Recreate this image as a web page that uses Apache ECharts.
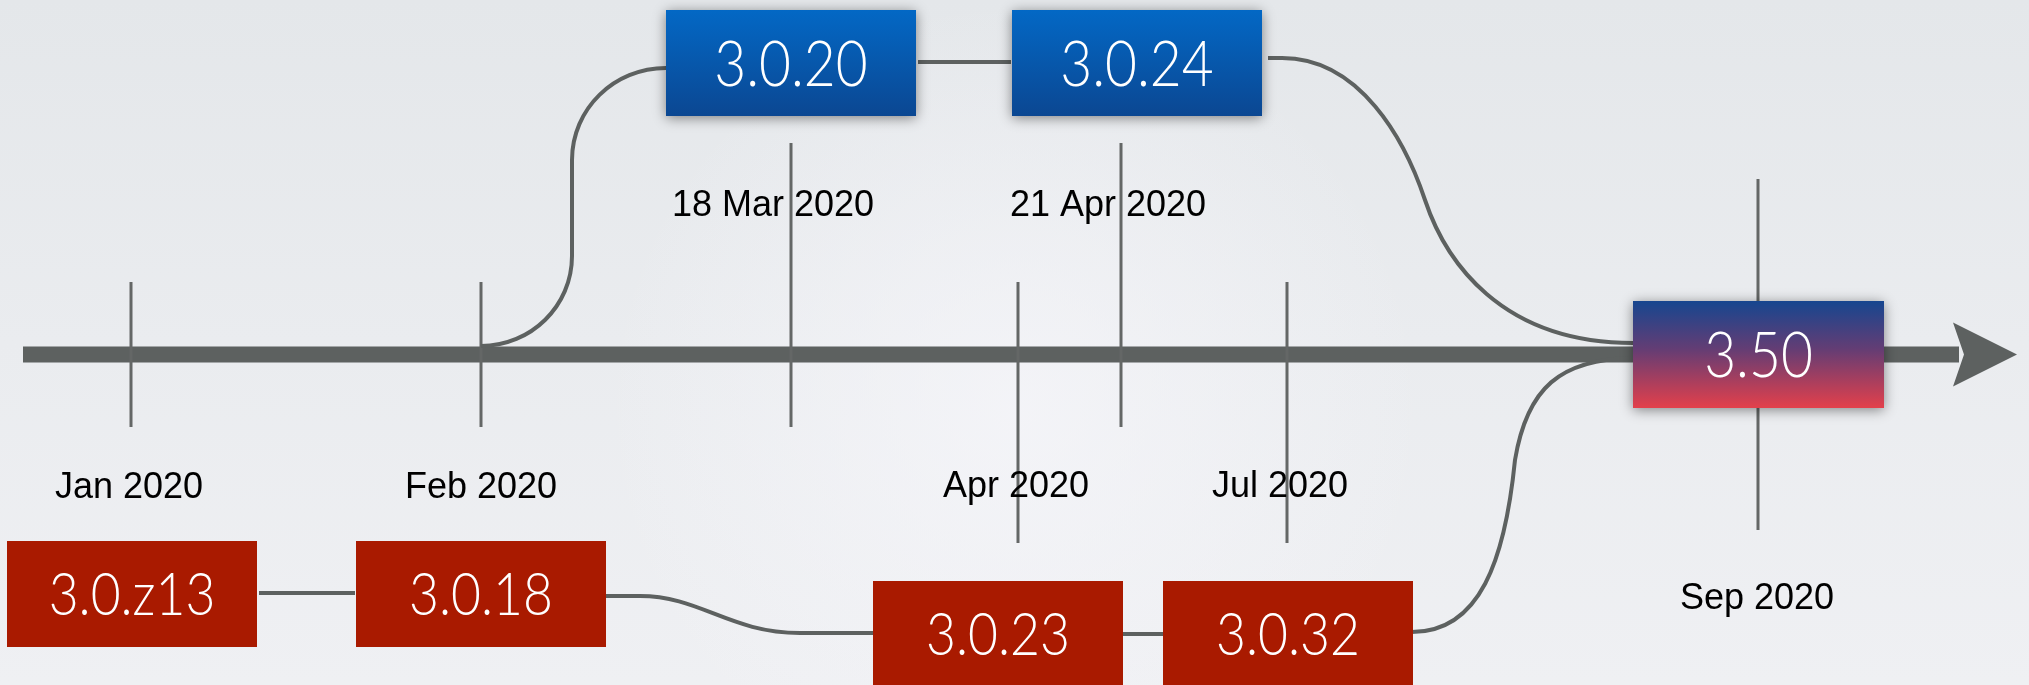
<!DOCTYPE html>
<html><head><meta charset="utf-8">
<script src="https://cdn.jsdelivr.net/npm/echarts@6/dist/echarts.min.js"></script>
<style>html,body{margin:0;padding:0;overflow:hidden;background:#eceef1}#chart{width:2029px;height:685px}</style>
</head><body><div id="chart"></div>
<script>
// ---------- data ----------
const dateLabels     = ['Jan 2020', 'Feb 2020', '18 Mar 2020', 'Apr 2020', '21 Apr 2020', 'Jul 2020', 'Sep 2020'];
const datePositions  = [131, 481, 791, 1018, 1121, 1287, 1758];          // position along the timeline
const versionLabels  = ['3.0.z13', '3.0.18', '3.0.20', '3.0.24', '3.0.23', '3.0.32', '3.50'];
const versionBranch  = ['old', 'old', 'new', 'new', 'old', 'old', 'merged'];

// ---------- layout (diagram units = pixels of the 2029x685 canvas) ----------
const tickTop    = [282, 282, 143, 282, 143, 282, 179];
const tickBottom = [427, 427, 427, 543, 427, 543, 530];
const labelX     = [129, 481, 773, 1016, 1108, 1280, 1757];
const labelY     = [488, 488, 206, 487, 206, 487, 599];
const boxX       = [7, 356, 666, 1012, 873, 1163, 1633];
const boxY       = [541, 541, 10, 10, 581, 581, 301];
const boxW       = [250, 250, 250, 250, 250, 250, 251];
const boxH       = [106, 106, 106, 106, 106, 106, 107];
const spine      = {start: 23, end: 2017, y: 354.5};
const connectors = [
  [['M', 259, 593], ['L', 355, 593]],
  [['M', 605, 596], ['L', 640, 596], ['C', 700, 596, 730, 633, 800, 633], ['L', 873, 633]],
  [['M', 1123, 634], ['L', 1163, 634]],
  [['M', 1412, 632], ['C', 1480, 632, 1505, 560, 1515, 460], ['C', 1527, 388, 1560, 359, 1633, 358]],
  [['M', 481, 346], ['C', 531, 346, 572, 306, 572, 256], ['L', 572, 160], ['C', 572, 109, 614, 68, 666, 68]],
  [['M', 918, 62], ['L', 1011, 62]],
  [['M', 1268, 58], ['L', 1282, 58], ['C', 1360, 58, 1405, 140, 1425, 200], ['C', 1445, 260, 1500, 343, 1633, 343]]
];

// ---------- styles ----------
const LINE = '#5d6160';
const branchStyle = {
  old: {fill: '#a91a00', shadow: 0, size: 60},
  new: {fill: new echarts.graphic.LinearGradient(0, 0, 0, 1, [
          {offset: 0, color: '#0368c5'}, {offset: 1, color: '#0b4792'}]), shadow: 12, size: 64},
  merged: {fill: new echarts.graphic.LinearGradient(0, 0, 0, 1, [
          {offset: 0, color: '#16468f'}, {offset: 0.45, color: '#643d74'}, {offset: 1, color: '#e3404b'}]), shadow: 12, size: 64}
};

const chart = echarts.init(document.getElementById('chart'), null, {renderer: 'canvas'});

function toPath(api, cmds) {
  return cmds.map(c => {
    const pts = [];
    for (let i = 1; i < c.length; i += 2) {
      const p = api.coord([c[i], c[i + 1]]);
      pts.push(p[0].toFixed(2) + ' ' + p[1].toFixed(2));
    }
    return c[0] + ' ' + pts.join(' ');
  }).join(' ');
}

const option = {
  animation: false,
  backgroundColor: 'transparent',
  graphic: [{
    type: 'rect', z: -101, silent: true,
    shape: {x: 0, y: 0, width: 2029, height: 685},
    style: {fill: new echarts.graphic.LinearGradient(0, 0, 0, 1, [
      {offset: 0, color: '#e4e7ea'}, {offset: 0.5, color: '#eaecef'}, {offset: 1, color: '#eff0f3'}])}
  }, {
    type: 'rect', z: -100, silent: true,
    shape: {x: 0, y: 0, width: 2029, height: 685},
    style: {fill: new echarts.graphic.RadialGradient(0.5, 0.6, 0.6, [
      {offset: 0, color: 'rgba(246,246,250,0.75)'}, {offset: 1, color: 'rgba(246,246,250,0)'}])}
  }],
  grid: {left: 0, right: 0, top: 0, bottom: 0},
  xAxis: {type: 'value', min: 0, max: 2029, show: false},
  yAxis: {type: 'value', min: 0, max: 685, inverse: true, show: false},
  series: [
    { // timeline spine with arrow
      type: 'custom', z: 1, silent: true, clip: false,
      data: [[spine.start, spine.end, spine.y]],
      renderItem: (params, api) => {
        const a = api.coord([api.value(0), api.value(2)]);
        const b = api.coord([api.value(1), api.value(2)]);
        return {type: 'group', children: [
          {type: 'line', shape: {x1: a[0], y1: a[1], x2: b[0] - 58, y2: b[1]}, style: {stroke: LINE, lineWidth: 16}},
          {type: 'polygon', shape: {points: [[b[0], b[1]], [b[0] - 64, b[1] - 32], [b[0] - 53, b[1]], [b[0] - 64, b[1] + 32]]},
           style: {fill: LINE}}
        ]};
      }
    },
    { // date ticks
      type: 'custom', z: 2, silent: true, clip: false,
      data: datePositions.map((x, i) => [x, tickTop[i], tickBottom[i]]),
      renderItem: (params, api) => {
        const t = api.coord([api.value(0), api.value(1)]);
        const b = api.coord([api.value(0), api.value(2)]);
        return {type: 'line', shape: {x1: t[0], y1: t[1], x2: b[0], y2: b[1]}, style: {stroke: '#646766', lineWidth: 3}};
      }
    },
    { // date labels
      type: 'custom', z: 3, silent: true, clip: false,
      data: dateLabels.map((d, i) => [labelX[i], labelY[i]]),
      renderItem: (params, api) => {
        const p = api.coord([api.value(0), api.value(1)]);
        return {type: 'text', x: p[0], y: p[1], style: {
          text: dateLabels[params.dataIndex], x: 0, y: 0, fill: '#000000',
          font: '36px "Liberation Sans", Arial, sans-serif', align: 'center', verticalAlign: 'middle'}};
      }
    },
    { // connectors
      type: 'custom', z: 4, silent: true, clip: false,
      data: connectors.map((c, i) => [i]),
      renderItem: (params, api) => ({
        type: 'path',
        shape: {pathData: toPath(api, connectors[params.dataIndex])},
        style: {stroke: LINE, lineWidth: 4, fill: 'none'}
      })
    },
    { // version boxes
      type: 'custom', z: 5, silent: true, clip: false,
      data: versionLabels.map((v, i) => [boxX[i], boxY[i], boxW[i], boxH[i]]),
      renderItem: (params, api) => {
        const i = params.dataIndex;
        const s = branchStyle[versionBranch[i]];
        const p0 = api.coord([api.value(0), api.value(1)]);
        const p1 = api.coord([api.value(0) + api.value(2), api.value(1) + api.value(3)]);
        const cx = (p0[0] + p1[0]) / 2, cy = (p0[1] + p1[1]) / 2;
        return {type: 'group', children: [
          {type: 'rect', shape: {x: p0[0], y: p0[1], width: p1[0] - p0[0], height: p1[1] - p0[1]},
           style: {fill: s.fill, shadowBlur: s.shadow, shadowColor: 'rgba(0,0,0,0.45)', shadowOffsetY: s.shadow ? 2 : 0}},
          {type: 'text', x: cx, y: cy + 2, scaleX: 0.86, style: {
            text: versionLabels[i], x: 0, y: 0, fill: '#ffffff',
            fontFamily: 'Lato', fontWeight: 300, fontSize: s.size, align: 'center', verticalAlign: 'middle'}}
        ]};
      }
    }
  ]
};
chart.setOption(option);
</script></body></html>
